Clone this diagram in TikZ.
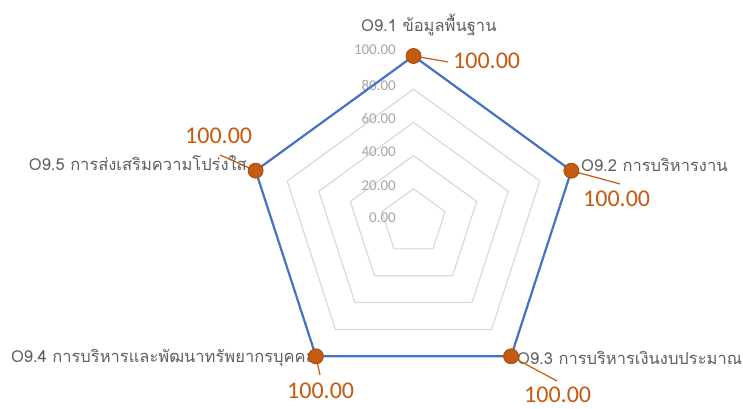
\documentclass[tikz,border=0pt]{standalone}
\usepackage{fontspec}
\usetikzlibrary{calc}
\newfontfamily\thaifont[Script=Thai]{Loma}
\newfontfamily\numfont{Carlito}
\definecolor{lblgray}{HTML}{5F5F5F}
\definecolor{tickgray}{HTML}{A6A6A6}
\definecolor{gridgray}{HTML}{D9D9D9}
\definecolor{serblue}{HTML}{4472C4}
\definecolor{serorange}{HTML}{C55A11}
\begin{document}
\begin{tikzpicture}[x=1pt,y=1pt,
  axlabel/.style={inner sep=0pt,text=lblgray,font=\thaifont\fontsize{16.5}{16.5}\selectfont},
  ticklabel/.style={inner sep=0pt,anchor=east,text=tickgray,font=\numfont\fontsize{15}{15}\selectfont},
  datalabel/.style={inner sep=0pt,text=serorange,font=\numfont\fontsize{24}{24}\selectfont},
  marker/.style={circle,fill=serorange,draw=serorange!85!black,line width=0.8pt,minimum size=15pt,inner sep=0pt},
  ring/.style={draw=gridgray,line width=1.2pt},
  leader/.style={draw=serorange,line width=1.2pt}]
\useasboundingbox (0,0) rectangle (743,408);
\fill[white] (0,0) rectangle (743,408);
\coordinate (c) at (413.5,186);
% grid rings
\foreach \r in {33.2,66.4,99.6,132.8,166}{
  \draw[ring] ($(c)+(90:\r)$) -- ($(c)+(18:\r)$) -- ($(c)+(-54:\r)$) -- ($(c)+(-126:\r)$) -- ($(c)+(162:\r)$) -- cycle;
}
% tick labels
\node[ticklabel] (t0) at (396,190) {0.00};
\node[ticklabel] (t20) at (396,222) {20.00};
\node[ticklabel] (t40) at (396,256) {40.00};
\node[ticklabel] (t60) at (396,290) {60.00};
\node[ticklabel] (t80) at (396,323) {80.00};
\node[ticklabel] (t100) at (396,358) {100.00};
% data vertices
\coordinate (p1) at ($(c)+(90:166)$);
\coordinate (p2) at ($(c)+(18:166)$);
\coordinate (p3) at ($(c)+(-54:166)$);
\coordinate (p4) at ($(c)+(-126:166)$);
\coordinate (p5) at ($(c)+(162:166)$);
\draw[serblue,line width=2.2pt,line join=round] (p1) -- (p2) -- (p3) -- (p4) -- (p5) -- cycle;
% axis labels
\node[axlabel,anchor=west] (a1) at (361,383) {O9.1 ข้อมูลพื้นฐาน};
\node[axlabel,anchor=west] (a2) at (581,243) {O9.2 การบริหารงาน};
\node[axlabel,anchor=west] (a3) at (517,50) {O9.3 การบริหารเงินงบประมาณ};
\node[axlabel,anchor=east] (a4) at (316,50) {O9.4 การบริหารและพัฒนาทรัพยากรบุคคล};
\node[axlabel,anchor=east] (a5) at (247,245) {O9.5 การส่งเสริมความโปร่งใส};
% data labels
\node[datalabel,anchor=west] (d1) at (453,347) {100.00};
\node[datalabel,anchor=west] (d2) at (583,209) {100.00};
\node[datalabel,anchor=west] (d3) at (524,13) {100.00};
\node[datalabel,anchor=west] (d4) at (287,17) {100.00};
\node[datalabel,anchor=west] (d5) at (185,272) {100.00};
% leader lines
\coordinate (l1a) at (437,348);
\coordinate (l1) at (448,346);
\coordinate (l2) at (620,224);
\coordinate (l3) at (557,27);
\coordinate (l4) at (320,33);
\coordinate (l5) at (220,253);
\draw[leader] (p1) -- (l1a) -- (l1);
\draw[leader] (p2) -- (l2);
\draw[leader] (p3) -- (l3);
\draw[leader] (p4) -- (l4);
\draw[leader] (p5) -- (l5);
% markers
\node[marker] (m1) at (p1) {};
\node[marker] (m2) at (p2) {};
\node[marker] (m3) at (p3) {};
\node[marker] (m4) at (p4) {};
\node[marker] (m5) at (p5) {};
\end{tikzpicture}
\end{document}
